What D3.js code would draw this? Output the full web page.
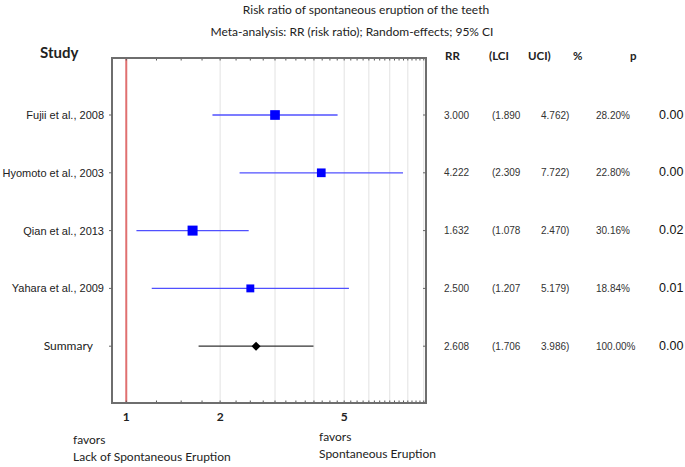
<!DOCTYPE html>
<html>
<head>
<meta charset="utf-8">
<script src="https://cdn.jsdelivr.net/npm/d3@7"></script>
<style>
  body { margin: 0; background: #fff; }
  svg text { font-family: "Liberation Sans", Arial, sans-serif; }
  .cal { font-family: Lato, "Open Sans", sans-serif !important; }
</style>
</head>
<body>
<svg id="chart" width="685" height="467"></svg>
<script>
// forest plot data
var studies = ["Fujii et al., 2008", "Hyomoto et al., 2003", "Qian et al., 2013", "Yahara et al., 2009", "Summary"];
var rr = [3.000, 4.222, 1.632, 2.500, 2.608];
var lci = [1.890, 2.309, 1.078, 1.207, 1.706];
var uci = [4.762, 7.722, 2.470, 5.179, 3.986];
var weights = [28.20, 22.80, 30.16, 18.84, 100.00];
var pvals = ["0.00", "0.00", "0.02", "0.01", "0.00"];
var tickLabels = [1, 2, 5];
var gridValues = [2, 3, 4, 5, 6, 7, 8, 9];

var svg = d3.select('#chart');
// note: "top" is taken by window.top, so use plot* names
var plotL = 112, plotR = 426, plotT = 58, plotB = 403;

var x = d3.scaleLog().domain([0.9, 9.15]).range([plotL, plotR]);
var y = d3.scalePoint().domain(studies.concat([""])).range([115, 404]);

// titles
svg.append('text').attr('class', 'cal').attr('x', 366).attr('y', 14)
    .attr('text-anchor', 'middle').attr('font-size', 12).attr('fill', '#222')
    .text('Risk ratio of spontaneous eruption of the teeth');
svg.append('text').attr('class', 'cal').attr('x', 352).attr('y', 36)
    .attr('text-anchor', 'middle').attr('font-size', 12).attr('fill', '#222')
    .text('Meta-analysis: RR (risk ratio); Random-effects; 95% CI');

// gridlines
svg.append('g').selectAll('line').data(gridValues).enter().append('line')
    .attr('x1', function (d) { return x(d); }).attr('x2', function (d) { return x(d); })
    .attr('y1', plotT).attr('y2', plotB)
    .attr('stroke', '#e2e2e2').attr('stroke-width', 1);

// no-effect line
svg.append('line').attr('x1', x(1)).attr('x2', x(1)).attr('y1', plotT + 1).attr('y2', plotB)
    .attr('stroke', '#e07070').attr('stroke-width', 2);

// minor ticks every 0.25 on top and bottom
var minor = d3.range(1, 9.01, 0.25);
var axisG = svg.append('g');
axisG.selectAll('.tb').data(minor).enter().append('line')
    .attr('x1', function (d) { return x(d); }).attr('x2', function (d) { return x(d); })
    .attr('y1', plotB).attr('y2', plotB - 2.5)
    .attr('stroke', '#555').attr('stroke-width', 1);
axisG.selectAll('.tt').data(minor).enter().append('line')
    .attr('x1', function (d) { return x(d); }).attr('x2', function (d) { return x(d); })
    .attr('y1', plotT).attr('y2', plotT + 2.5)
    .attr('stroke', '#555').attr('stroke-width', 1);

// frame: left, top, right, bottom
svg.append('path')
    .attr('d', 'M' + plotL + ',' + plotB + 'V' + plotT + 'H' + plotR + 'V' + plotB + 'Z')
    .attr('fill', 'none').attr('stroke', '#6e6e6e').attr('stroke-width', 2);

// row ticks on left and right axes
var rt = svg.append('g');
rt.selectAll('.l').data(studies).enter().append('line')
    .attr('x1', plotL - 3).attr('x2', plotL)
    .attr('y1', function (d) { return y(d); }).attr('y2', function (d) { return y(d); })
    .attr('stroke', '#666');
rt.selectAll('.r').data(studies).enter().append('line')
    .attr('x1', plotR - 3).attr('x2', plotR)
    .attr('y1', function (d) { return y(d); }).attr('y2', function (d) { return y(d); })
    .attr('stroke', '#666');

// tick labels
svg.append('g').selectAll('text').data(tickLabels).enter().append('text')
    .attr('class', 'cal')
    .attr('x', function (d) { return x(d); }).attr('y', 421)
    .attr('text-anchor', 'middle').attr('font-size', 12).attr('font-weight', 'bold').attr('fill', '#222')
    .text(function (d) { return d; });

// study labels
svg.append('g').selectAll('text').data(studies).enter().append('text')
    .attr('class', function (d, i) { return i === 4 ? 'cal' : null; })
    .attr('x', function (d, i) { return i === 4 ? 93 : 104; })
    .attr('y', function (d) { return y(d) + 4; })
    .attr('text-anchor', 'end').attr('font-size', function (d, i) { return i === 4 ? 12 : 11; })
    .attr('fill', '#222')
    .text(function (d) { return d; });

// CI lines
var rows = svg.append('g');
rows.selectAll('line').data(studies).enter().append('line')
    .attr('x1', function (d, i) { return x(lci[i]); })
    .attr('x2', function (d, i) { return x(uci[i]); })
    .attr('y1', function (d) { return y(d); }).attr('y2', function (d) { return y(d); })
    .attr('stroke', function (d, i) { return i === 4 ? '#333' : '#5050ff'; })
    .attr('stroke-width', 1.3);

// squares sized by weight
var sz = d3.scaleSqrt().domain([0, 30.16]).range([0, 10]);
rows.selectAll('rect').data(studies.slice(0, 4)).enter().append('rect')
    .attr('x', function (d, i) { return x(rr[i]) - sz(weights[i]) / 2; })
    .attr('y', function (d, i) { return y(d) - sz(weights[i]) / 2; })
    .attr('width', function (d, i) { return sz(weights[i]); })
    .attr('height', function (d, i) { return sz(weights[i]); })
    .attr('fill', '#0000ff');

// summary diamond
var sx = x(rr[4]), sy = y(studies[4]);
rows.append('path')
    .attr('d', 'M' + (sx - 4.5) + ',' + sy + 'L' + sx + ',' + (sy - 4.5) + 'L' + (sx + 4.5) + ',' + sy + 'L' + sx + ',' + (sy + 4.5) + 'Z')
    .attr('fill', '#000');

// headers
svg.append('text').attr('class', 'cal').attr('x', 40).attr('y', 58)
    .attr('font-size', 15).attr('font-weight', 'bold').attr('fill', '#222').text('Study');
var headers = ["RR", "(LCI", "UCI)", "%", "p"];
var headerX = [445, 489, 528, 573, 630];
svg.append('g').selectAll('text').data(headers).enter().append('text')
    .attr('class', 'cal')
    .attr('x', function (d, i) { return headerX[i]; }).attr('y', 60)
    .attr('font-size', 11.5).attr('font-weight', 'bold').attr('fill', '#222')
    .text(function (d) { return d; });

// table values
var tbl = svg.append('g');
studies.forEach(function (s, i) {
    var ty = y(s) + 3.5;
    var cells = [rr[i].toFixed(3), '(' + lci[i].toFixed(3), uci[i].toFixed(3) + ')', weights[i].toFixed(2) + '%'];
    var cx = [444, 492, 541, 596];
    cells.forEach(function (c, j) {
        tbl.append('text').attr('x', cx[j]).attr('y', ty)
            .attr('font-size', 10).attr('fill', '#333').text(c);
    });
    tbl.append('text').attr('x', 659).attr('y', ty)
        .attr('font-size', 12.5).attr('fill', '#111').text(pvals[i]);
});

// favors captions
var fav = svg.append('g').attr('font-size', 12).attr('fill', '#222');
fav.append('text').attr('class', 'cal').attr('x', 73).attr('y', 444).text('favors');
fav.append('text').attr('class', 'cal').attr('x', 73).attr('y', 461).text('Lack of Spontaneous Eruption');
fav.append('text').attr('class', 'cal').attr('x', 319).attr('y', 441).text('favors');
fav.append('text').attr('class', 'cal').attr('x', 319).attr('y', 458).text('Spontaneous Eruption');
</script>
</body>
</html>
